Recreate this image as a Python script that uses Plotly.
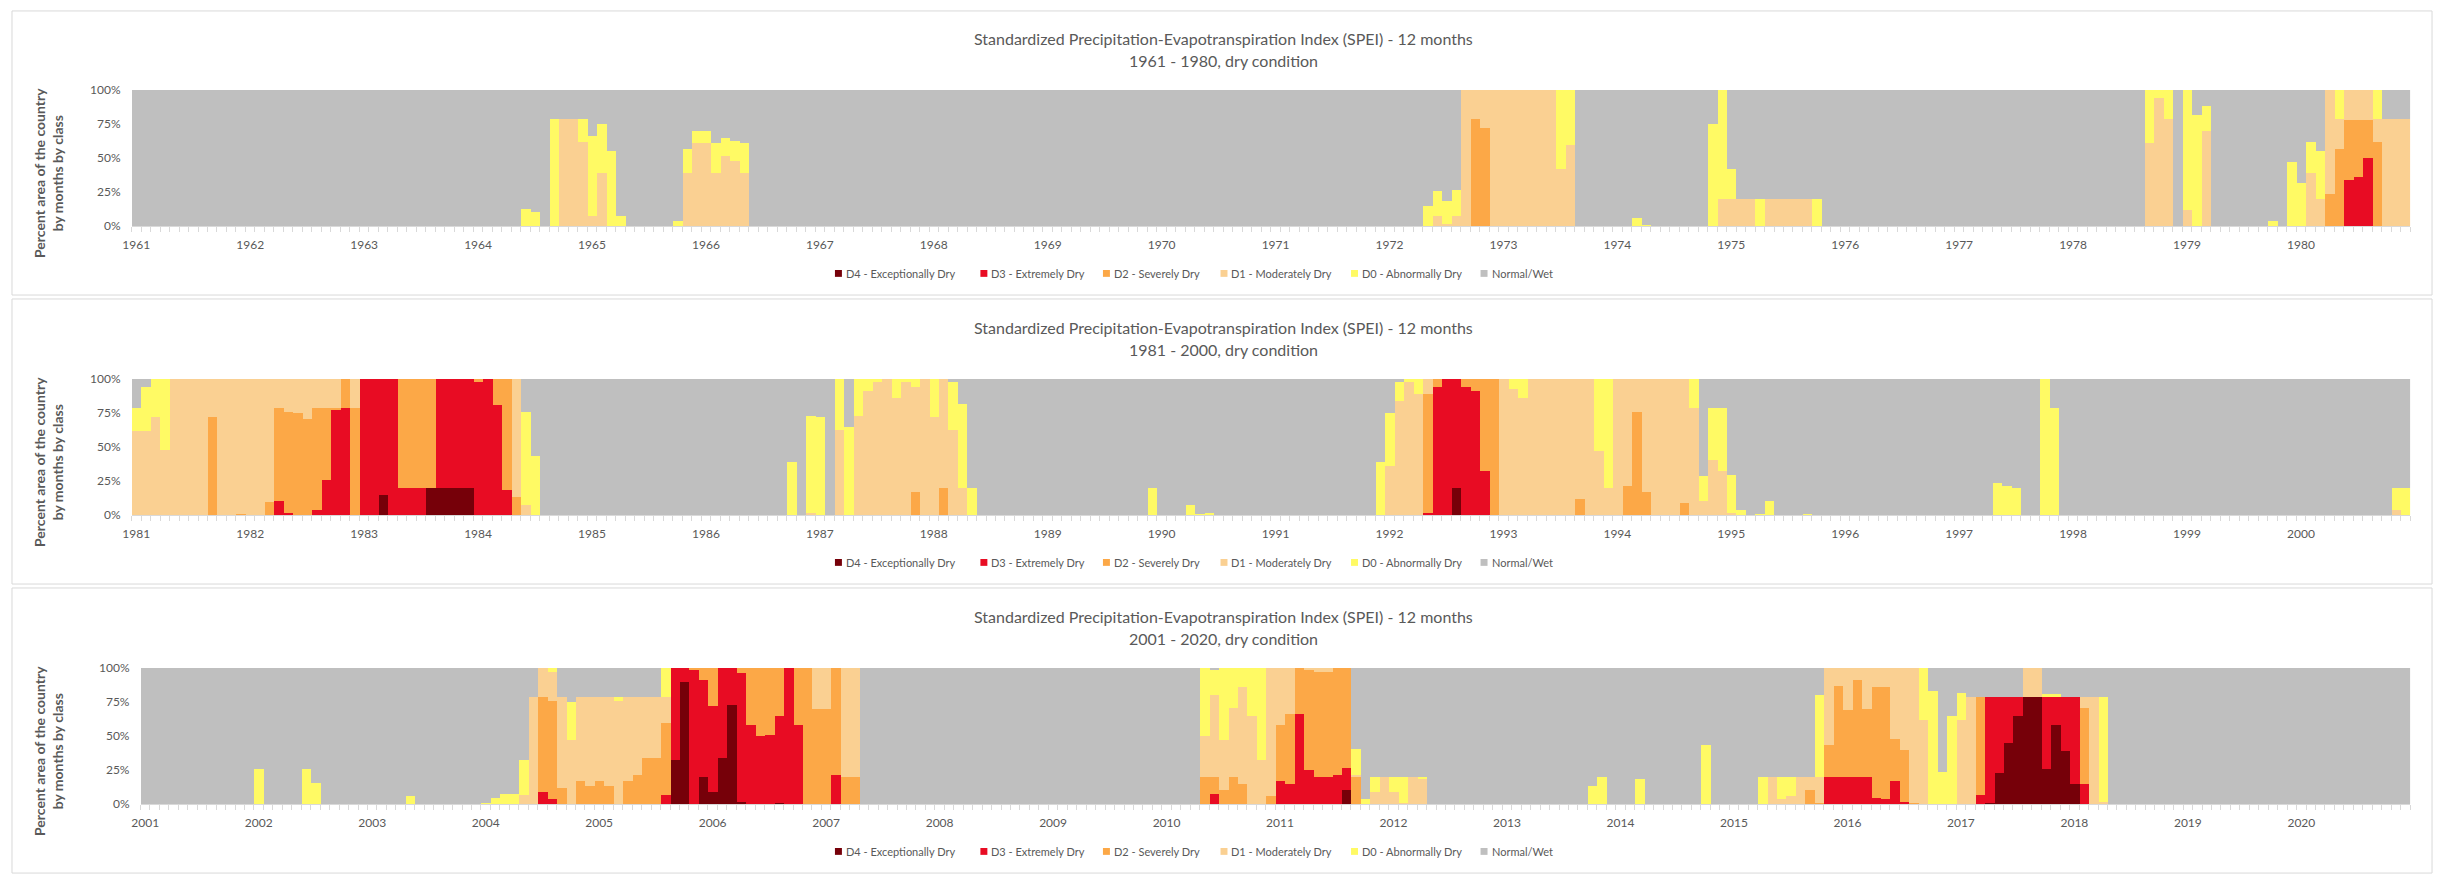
import plotly.graph_objects as go

W, H = 2438, 883
FONT = "Lato"
TXT = "#595959"

CLASSES = ["D4 - Exceptionally Dry", "D3 - Extremely Dry", "D2 - Severely Dry",
           "D1 - Moderately Dry", "D0 - Abnormally Dry", "Normal/Wet"]
COLORS = ["#760009", "#E80C23", "#FCA847", "#FAD092", "#FFFA64", "#BFBFBF"]
PERIODS = [(1961, 1980), (1981, 2000), (2001, 2020)]
TITLE = "Standardized Precipitation-Evapotranspiration Index (SPEI) - 12 months"

# percent of area per class, by month (months not listed = 0)
D4 = {"1983-03": 15, "1983-08": 20, "1983-09": 20, "1983-10": 20, "1983-11": 20, "1983-12": 20,
      "1992-08": 20,
      "2005-09": 33, "2005-10": 90, "2005-12": 20, "2006-01": 9, "2006-02": 34, "2006-03": 73,
      "2006-04": 2, "2006-08": 1, "2011-08": 11,
      "2017-04": 1, "2017-05": 23, "2017-06": 45, "2017-07": 65, "2017-08": 79, "2017-09": 79,
      "2017-10": 26, "2017-11": 58, "2017-12": 39, "2018-01": 15}

D3 = {"1980-06": 34, "1980-07": 36, "1980-08": 50,
      "1982-04": 11, "1982-05": 2, "1982-08": 4, "1982-09": 26, "1982-10": 78, "1982-11": 79,
      "1983-01": 100, "1983-02": 100, "1983-03": 85, "1983-04": 100, "1983-05": 20, "1983-06": 20,
      "1983-07": 20, "1983-09": 80, "1983-10": 80, "1983-11": 80, "1983-12": 80, "1984-01": 98,
      "1984-02": 100, "1984-03": 81, "1984-04": 19,
      "1992-05": 2, "1992-06": 94, "1992-07": 100, "1992-08": 80, "1992-09": 94, "1992-10": 91,
      "1992-11": 33,
      "2004-07": 9, "2004-08": 4, "2005-08": 7, "2005-09": 67, "2005-10": 10, "2005-11": 99,
      "2005-12": 71, "2006-01": 63, "2006-02": 66, "2006-03": 27, "2006-04": 94, "2006-05": 58,
      "2006-06": 50, "2006-07": 51, "2006-08": 64, "2006-09": 100, "2006-10": 58, "2007-02": 22,
      "2010-06": 8, "2011-01": 17, "2011-02": 15, "2011-03": 66, "2011-04": 25, "2011-05": 20,
      "2011-06": 20, "2011-07": 22, "2011-08": 16,
      "2015-11": 20, "2015-12": 20, "2016-01": 20, "2016-02": 20, "2016-03": 20, "2016-04": 5,
      "2016-05": 4, "2016-06": 17, "2016-07": 2, "2017-03": 7, "2017-04": 78, "2017-05": 56,
      "2017-06": 34, "2017-07": 14, "2017-10": 53, "2017-11": 21, "2017-12": 40, "2018-01": 64,
      "2018-02": 15}

D2 = {"1972-10": 79, "1972-11": 72, "1980-04": 24, "1980-05": 57, "1980-06": 44, "1980-07": 42,
      "1980-08": 28, "1980-09": 62,
      "1981-09": 72, "1981-12": 1, "1982-03": 10, "1982-04": 68, "1982-05": 74, "1982-06": 75,
      "1982-07": 71, "1982-08": 75, "1982-09": 53, "1982-10": 1, "1982-11": 21, "1982-12": 79,
      "1983-05": 80, "1983-06": 80, "1983-07": 80, "1983-08": 80, "1984-01": 2, "1984-03": 19,
      "1984-04": 81, "1984-05": 14, "1987-11": 17, "1988-02": 20,
      "1992-05": 87, "1992-06": 6, "1992-09": 6, "1992-10": 9, "1992-11": 67, "1992-12": 100,
      "1993-09": 12, "1994-02": 22, "1994-03": 76, "1994-04": 17, "1994-08": 9,
      "2004-07": 70, "2004-08": 72, "2004-09": 12, "2004-11": 17, "2004-12": 14, "2005-01": 17,
      "2005-02": 14, "2005-04": 17, "2005-05": 22, "2005-06": 34, "2005-07": 34, "2005-08": 53,
      "2005-11": 1, "2005-12": 9, "2006-01": 28, "2006-04": 4, "2006-05": 42, "2006-06": 50,
      "2006-07": 49, "2006-08": 35, "2006-10": 42, "2006-11": 100, "2006-12": 70, "2007-01": 70,
      "2007-02": 78, "2007-03": 20, "2007-04": 20,
      "2010-05": 20, "2010-06": 12, "2010-07": 11, "2010-08": 20, "2010-09": 15, "2010-12": 6,
      "2011-01": 41, "2011-02": 51, "2011-03": 34, "2011-04": 74, "2011-05": 77, "2011-06": 77,
      "2011-07": 78, "2011-08": 73, "2011-09": 20,
      "2015-09": 11, "2015-10": 1, "2015-11": 24, "2015-12": 67, "2016-01": 49, "2016-02": 71,
      "2016-03": 50, "2016-04": 81, "2016-05": 82, "2016-06": 31, "2016-07": 38, "2016-08": 1,
      "2017-03": 72, "2018-02": 56}

D1 = {"1964-10": 79, "1964-11": 79, "1964-12": 62, "1965-01": 8, "1965-02": 39, "1965-11": 39,
      "1965-12": 61, "1966-01": 61, "1966-02": 39, "1966-03": 52, "1966-04": 48, "1966-05": 39,
      "1972-06": 8, "1972-07": 2, "1972-08": 8, "1972-09": 100, "1972-10": 21, "1972-11": 28,
      "1972-12": 100, "1973-01": 100, "1973-02": 100, "1973-03": 100, "1973-04": 100,
      "1973-05": 100, "1973-06": 100, "1973-07": 42, "1973-08": 60,
      "1974-12": 20, "1975-01": 20, "1975-02": 20, "1975-03": 20, "1975-05": 20, "1975-06": 20,
      "1975-07": 20, "1975-08": 20, "1975-09": 20,
      "1978-09": 61, "1978-10": 94, "1978-11": 79, "1979-01": 12, "1979-03": 70, "1980-02": 39,
      "1980-03": 20, "1980-04": 76, "1980-05": 22, "1980-06": 22, "1980-07": 22, "1980-08": 22,
      "1980-09": 17, "1980-10": 79, "1980-11": 79, "1980-12": 79,
      "1981-01": 62, "1981-02": 62, "1981-03": 72, "1981-04": 48, "1981-05": 100, "1981-06": 100,
      "1981-07": 100, "1981-08": 100, "1981-09": 28, "1981-10": 100, "1981-11": 100,
      "1981-12": 99, "1982-01": 100, "1982-02": 100, "1982-03": 90, "1982-04": 21, "1982-05": 24,
      "1982-06": 25, "1982-07": 29, "1982-08": 21, "1982-09": 21, "1982-10": 21, "1982-12": 21,
      "1984-05": 86, "1984-06": 8,
      "1986-12": 2, "1987-03": 63, "1987-05": 73, "1987-06": 91, "1987-07": 98, "1987-08": 100,
      "1987-09": 86, "1987-10": 98, "1987-11": 77, "1987-12": 100, "1988-01": 72, "1988-02": 80,
      "1988-03": 63, "1988-04": 20,
      "1992-01": 36, "1992-02": 84, "1992-03": 98, "1992-04": 89, "1992-05": 11, "1993-01": 100,
      "1993-02": 93, "1993-03": 86, "1993-04": 100, "1993-05": 100, "1993-06": 100,
      "1993-07": 100, "1993-08": 100, "1993-09": 88, "1993-10": 100, "1993-11": 47,
      "1993-12": 20, "1994-01": 100, "1994-02": 78, "1994-03": 24, "1994-04": 83, "1994-05": 100,
      "1994-06": 100, "1994-07": 100, "1994-08": 91, "1994-09": 79, "1994-10": 11,
      "1994-11": 41, "1994-12": 33, "1995-01": 2, "2000-11": 4,
      "2004-05": 7, "2004-06": 79, "2004-07": 21, "2004-08": 21, "2004-09": 67, "2004-10": 47,
      "2004-11": 62, "2004-12": 65, "2005-01": 62, "2005-02": 65, "2005-03": 76, "2005-04": 62,
      "2005-05": 57, "2005-06": 45, "2005-07": 45, "2005-08": 19, "2006-12": 30, "2007-01": 30,
      "2007-03": 80, "2007-04": 80,
      "2010-05": 30, "2010-06": 60, "2010-07": 36, "2010-08": 51, "2010-09": 71, "2010-10": 65,
      "2010-11": 33, "2010-12": 94, "2011-01": 42, "2011-02": 34, "2011-04": 1, "2011-05": 3,
      "2011-06": 3, "2011-09": 2, "2011-11": 9, "2011-12": 20, "2012-01": 9, "2012-02": 1,
      "2012-03": 20, "2012-04": 19,
      "2015-05": 20, "2015-06": 4, "2015-07": 6, "2015-08": 20, "2015-09": 9, "2015-10": 19,
      "2015-11": 56, "2015-12": 13, "2016-01": 31, "2016-02": 9, "2016-03": 30, "2016-04": 14,
      "2016-05": 14, "2016-06": 52, "2016-07": 60, "2016-08": 99, "2016-09": 62, "2017-01": 62,
      "2017-02": 79, "2017-08": 21, "2017-09": 21, "2018-02": 8, "2018-03": 79, "2018-04": 2}

D0 = {"1964-06": 13, "1964-07": 11, "1964-09": 79, "1964-12": 17, "1965-01": 58, "1965-02": 36,
      "1965-03": 55, "1965-04": 8, "1965-10": 4, "1965-11": 18, "1965-12": 9, "1966-01": 9,
      "1966-02": 22, "1966-03": 13, "1966-04": 15, "1966-05": 22,
      "1972-05": 15, "1972-06": 18, "1972-07": 17, "1972-08": 19, "1973-07": 58, "1973-08": 40,
      "1974-03": 6, "1974-04": 1, "1974-11": 75, "1974-12": 80, "1975-01": 22, "1975-04": 20,
      "1975-10": 20,
      "1978-09": 39, "1978-10": 6, "1978-11": 21, "1979-01": 88, "1979-02": 82, "1979-03": 18,
      "1979-10": 4, "1979-12": 47, "1980-01": 32, "1980-02": 23, "1980-03": 35, "1980-05": 21,
      "1980-09": 21,
      "1981-01": 17, "1981-02": 32, "1981-03": 28, "1981-04": 52, "1984-06": 68, "1984-07": 44,
      "1986-10": 39, "1986-12": 71, "1987-01": 72, "1987-03": 37, "1987-04": 65, "1987-05": 27,
      "1987-06": 9, "1987-07": 2, "1987-09": 14, "1987-10": 2, "1987-11": 6, "1988-01": 28,
      "1988-03": 35, "1988-04": 62, "1988-05": 20, "1989-12": 20, "1990-04": 8, "1990-05": 1,
      "1990-06": 2,
      "1991-12": 39, "1992-01": 39, "1992-02": 14, "1992-03": 2, "1992-04": 11, "1993-02": 7,
      "1993-03": 14, "1993-11": 53, "1993-12": 80, "1994-09": 21, "1994-10": 18, "1994-11": 38,
      "1994-12": 46, "1995-01": 28, "1995-02": 4, "1995-04": 1, "1995-05": 11, "1995-09": 1,
      "1997-05": 24, "1997-06": 22, "1997-07": 20, "1997-10": 100, "1997-11": 79,
      "2000-11": 16, "2000-12": 20,
      "2002-01": 26, "2002-06": 26, "2002-07": 16, "2003-05": 6, "2004-01": 1, "2004-02": 5,
      "2004-03": 8, "2004-04": 8, "2004-05": 26, "2004-08": 3, "2004-10": 28, "2005-03": 3,
      "2005-08": 21,
      "2010-05": 50, "2010-06": 19, "2010-07": 53, "2010-08": 29, "2010-09": 14, "2010-10": 35,
      "2010-11": 67, "2011-09": 19, "2011-10": 4, "2011-11": 11, "2012-01": 11, "2012-02": 19,
      "2012-04": 1, "2013-10": 14, "2013-11": 20, "2014-03": 19, "2014-10": 44,
      "2015-04": 20, "2015-06": 16, "2015-07": 14, "2015-10": 60, "2016-09": 38, "2016-10": 83,
      "2016-11": 24, "2016-12": 65, "2017-01": 20, "2017-10": 2, "2017-11": 2, "2018-04": 77}

CLASS_DATA = [D4, D3, D2, D1, D0]


def month_keys(start):
    return [f"{start + i // 12}-{i % 12 + 1:02d}" for i in range(240)]


def px_x(v):
    return v / W


def px_y(v):
    return 1 - v / H


# layout geometry (pixels)
PLOT_TOP = [83, 377, 671]
PLOT_BOT = [222, 516, 810]
PLOT_LEFT = [123, 123, 132]
PLOT_RIGHT = 2410
BOXES = [(3, 292), (296, 586), (590, 880)]
LEGEND_X = [829, 975, 1098, 1216, 1347, 1477]   # left edge of each legend square

fig = go.Figure()
annotations = []
shapes = []
layout_axes = {}

for p, (y0, y1) in enumerate(PERIODS):
    keys = month_keys(y0)
    idx = list(range(240))
    vals = [[d.get(k, 0) for k in keys] for d in CLASS_DATA]
    normal = [100 - sum(v[i] for v in vals) for i in range(240)]
    vals.append(normal)
    sfx = "" if p == 0 else str(p + 1)
    for c in range(6):
        fig.add_trace(go.Bar(
            x=idx, y=vals[c], name=CLASSES[c], marker=dict(color=COLORS[c], line=dict(width=0)),
            xaxis="x" + sfx, yaxis="y" + sfx, width=1.0, showlegend=False,
            hovertemplate="%{y}%<extra>" + CLASSES[c] + "</extra>",
        ))
    top, bot = PLOT_TOP[p], PLOT_BOT[p]
    layout_axes["xaxis" + sfx] = dict(
        domain=[px_x(PLOT_LEFT[p]), px_x(PLOT_RIGHT)], range=[-0.5, 239.5],
        anchor="y" + sfx, tickmode="array", tickvals=list(range(0, 240, 12)),
        ticktext=[str(y) for y in range(y0, y1 + 1)], ticks="", showgrid=False, zeroline=False,
        showline=True, linecolor="#D9D9D9", linewidth=1,
        tickfont=dict(family=FONT, size=12, color=TXT), ticklabelstandoff=7,
        minor=dict(ticks="outside", tickmode="array", tickvals=[i - 0.5 for i in range(241)],
                   ticklen=5, tickcolor="#D9D9D9", tickwidth=1, showgrid=False),
        fixedrange=True,
    )
    layout_axes["yaxis" + sfx] = dict(
        domain=[px_y(bot), px_y(top)], range=[0, 100], anchor="x" + sfx,
        tickmode="array", tickvals=[0, 25, 50, 75, 100],
        ticktext=["0%", "25%", "50%", "75%", "100%"], ticks="", showgrid=False, zeroline=False,
        showline=False, tickfont=dict(family=FONT, size=12, color=TXT), ticklabelstandoff=10,
        fixedrange=True,
    )
    off = top - PLOT_TOP[0]
    annotations.append(dict(text=TITLE, x=0.5, y=px_y(31 + off), xref="paper", yref="paper",
                            showarrow=False, xanchor="center", yanchor="middle",
                            font=dict(family=FONT, size=16, color=TXT)))
    annotations.append(dict(text=f"{y0} - {y1}, dry condition", x=0.5, y=px_y(53 + off),
                            xref="paper", yref="paper", showarrow=False, xanchor="center",
                            yanchor="middle", font=dict(family=FONT, size=16, color=TXT)))
    annotations.append(dict(text="Percent area of the country<br>by months by class",
                            x=px_x(39), y=px_y(168 + off), xref="paper", yref="paper",
                            showarrow=False, xanchor="center", yanchor="middle", textangle=-90,
                            font=dict(family=FONT, size=14, color=TXT, weight="bold")))
    # legend (squares + labels)
    ly = 270 + off
    for c in range(6):
        sx = LEGEND_X[c]
        shapes.append(dict(type="rect", xref="paper", yref="paper", x0=px_x(sx),
                           x1=px_x(sx + 7), y0=px_y(ly + 3.5), y1=px_y(ly - 3.5),
                           line=dict(width=0), fillcolor=COLORS[c]))
        annotations.append(dict(text=CLASSES[c], x=px_x(sx + 9), y=px_y(ly), xref="paper",
                                yref="paper", showarrow=False, xanchor="left", yanchor="middle",
                                font=dict(family=FONT, size=11, color=TXT)))
    b0, b1 = BOXES[p]
    shapes.append(dict(type="rect", xref="paper", yref="paper", x0=px_x(3), x1=px_x(2432),
                       y0=px_y(b1), y1=px_y(b0), line=dict(color="#D9D9D9", width=1),
                       fillcolor="rgba(0,0,0,0)", layer="below"))

fig.update_layout(
    width=W, height=H, autosize=False, margin=dict(l=0, r=0, t=0, b=0, pad=0),
    paper_bgcolor="white", plot_bgcolor="white", barmode="stack", bargap=0,
    font=dict(family=FONT, color=TXT), annotations=annotations, shapes=shapes,
    showlegend=False, **layout_axes,
)

fig.write_html(
    "out.html",
    config={"displayModeBar": False},
    post_script="document.documentElement.style.margin='0';document.body.style.margin='0';"
                "document.body.style.overflow='hidden';window.scrollTo(0,0);",
)
